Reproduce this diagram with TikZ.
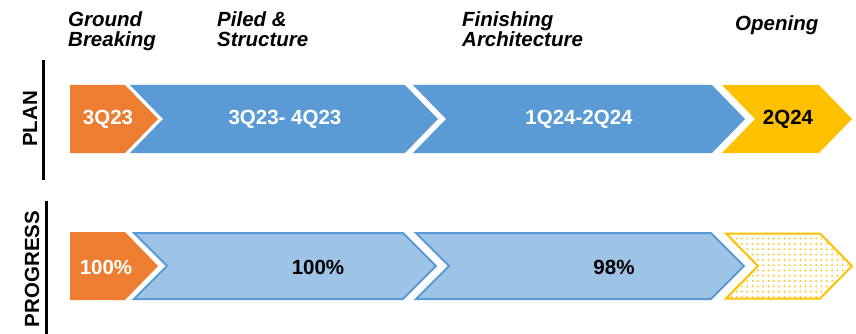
\documentclass[tikz,border=0pt]{standalone}
\usepackage{fontspec}
\setmainfont{Liberation Sans}
\usetikzlibrary{patterns.meta}

\definecolor{phaseorange}{HTML}{ED7D31}
\definecolor{phaseblue}{HTML}{5B9BD5}
\definecolor{phaselight}{HTML}{9DC3E6}
\definecolor{phaseyellow}{HTML}{FFC000}

\tikzset{
  heading/.style={anchor=base west, align=left, inner sep=0pt,
    font=\fontsize{20.5}{20.7}\selectfont\bfseries\itshape},
  rowlabel/.style={rotate=90, inner sep=0pt,
    font=\fontsize{20.5}{20.5}\selectfont\bfseries},
  value/.style={inner sep=0pt, font=\fontsize{20.5}{20.5}\selectfont\bfseries},
  divider/.style={line width=3pt},
  solidorange/.style={fill=phaseorange, draw=none},
  solidblue/.style={fill=phaseblue, draw=none},
  solidyellow/.style={fill=phaseyellow, draw=none},
  donebox/.style={fill=phaselight, draw=phaseblue, line width=2pt, line join=miter},
  pendingbox/.style={pattern={Dots[distance=5.3pt, radius=1pt]}, pattern color=phaseyellow,
    draw=phaseyellow, line width=2pt, line join=miter},
}

% pentagon arrow: left x, right shoulder x, top y, bottom y, tip depth
\newcommand{\flagarrow}[6]{%
  \path[#1] (#2,#4) -- (#3,#4) -- ({#3+#6},{(#4+#5)/2}) -- (#3,#5) -- (#2,#5) -- cycle;}
% chevron: left x, right shoulder x, top y, bottom y, tip depth
\newcommand{\chevarrow}[6]{%
  \path[#1] (#2,#4) -- (#3,#4) -- ({#3+#6},{(#4+#5)/2}) -- (#3,#5) -- (#2,#5)
    -- ({#2+#6},{(#4+#5)/2}) -- cycle;}

\begin{document}
\begin{tikzpicture}[x=1pt, y=-1pt]
\useasboundingbox (0,0) rectangle (856,334);

% phase headings (anchored at the baseline of the last line)
\node[heading] (hground) at (68,47) {Ground\\Breaking};
\node[heading] (hpiled) at (217,47) {Piled \&\\Structure};
\node[heading] (hfinish) at (462,47) {Finishing\\Architecture};
\node[heading] (hopen) at (735,31) {Opening};

% row labels and dividers
\node[rowlabel] (lplan) at (30,119) {PLAN};
\draw[divider] (43,60) -- (43,180);
\node[rowlabel] (lprog) at (32,269) {PROGRESS};
\draw[divider] (46,201) -- (46,334);

% plan row
\flagarrow{solidorange}{70}{125}{85}{153}{33}
\chevarrow{solidblue}{130}{405}{85}{153}{33}
\chevarrow{solidblue}{413}{712}{85}{153}{33}
\chevarrow{solidyellow}{722}{819}{85}{153}{33}

\node[value, text=white] (p1) at (108,119) {3Q23};
\node[value, text=white] (p2) at (285,119) {3Q23- 4Q23};
\node[value, text=white] (p3) at (579,119) {1Q24-2Q24};
\node[value, text=black] (p4) at (788,119) {2Q24};

% progress row
\flagarrow{solidorange}{70}{125}{232}{300}{33}
\chevarrow{donebox}{134}{403}{233}{299}{33}
\chevarrow{donebox}{416}{711}{233}{299}{33}
\chevarrow{pendingbox}{726}{820}{233.5}{298.5}{32}

\node[value, text=white] (g1) at (106,267) {100\%};
\node[value, text=black] (g2) at (318,267) {100\%};
\node[value, text=black] (g3) at (614,267) {98\%};
\end{tikzpicture}
\end{document}
